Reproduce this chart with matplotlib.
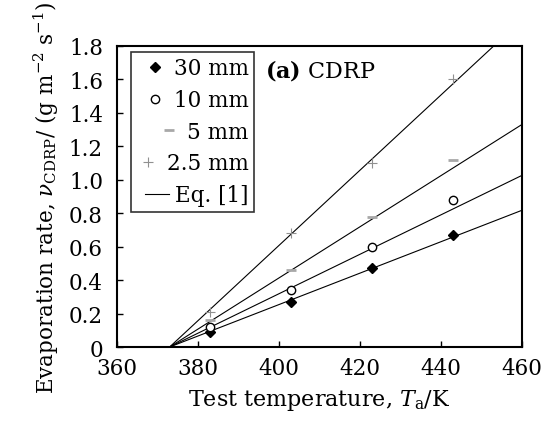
import matplotlib
matplotlib.use("Agg")
import matplotlib.pyplot as plt
import numpy as np

plt.rcParams['font.family'] = ['DejaVu Serif']
plt.rcParams['mathtext.fontset'] = 'dejavuserif'
plt.rcParams['font.size'] = 15.5

# measured data (test temperature in K)
temps = [383, 403, 423, 443]
rate_30 = [0.09, 0.27, 0.47, 0.67]
rate_10 = [0.12, 0.34, 0.60, 0.88]
rate_5 = [0.16, 0.46, 0.78, 1.12]
rate_2p5 = [0.21, 0.68, 1.10, 1.60]

# Eq. [1] lines: v = k (T - T0)
t0 = 373
slopes = [0.0094, 0.0118, 0.0153, 0.0225]

fig = plt.figure(figsize=(5.49, 4.27), dpi=100)
ax = fig.add_axes([0.213, 0.185, 0.738, 0.705])

tline = np.array([t0, 470])
for k in slopes:
    ax.plot(tline, k * (tline - t0), color='black', lw=0.8)

ax.plot(temps, rate_30, ls='none', marker='D', ms=5, color='black', label='30 mm')
ax.plot(temps, rate_10, ls='none', marker='o', ms=6, mfc='white', mec='black', mew=1.0, label='10 mm')
ax.plot(temps, rate_5, ls='none', marker='_', ms=7, mew=2, color='#a8a8a8', label='5 mm')
ax.plot(temps, rate_2p5, ls='none', marker='+', ms=7, mew=0.8, color='#909090', label='2.5 mm')
ax.plot([], [], color='black', lw=0.8, label='Eq. [1]')

ax.set_xlim(360, 460)
ax.set_ylim(0, 1.8)
ax.set_xticks(np.arange(360, 461, 20))
ax.set_yticks(np.arange(0, 1.81, 0.2))
ax.set_yticklabels(['0'] + ['%.1f' % v for v in np.arange(0.2, 1.81, 0.2)])
ax.tick_params(direction='in', length=4, width=1, top=False, right=False, labelsize=15.5)
ax.tick_params(axis='y', pad=10)
ax.tick_params(axis='x', pad=7)
for s in ax.spines.values():
    s.set_linewidth(1.5)

ax.set_xlabel('Test temperature, $T_{\\mathrm{a}}$/K', fontsize=16, labelpad=6)
ax.set_ylabel('Evaporation rate, $\\nu_{\\mathrm{CDRP}}$/ (g m$^{-2}$ s$^{-1}$)', fontsize=15.5, labelpad=6)

leg = ax.legend(loc='upper left', bbox_to_anchor=(0.035, 0.98), frameon=True, fancybox=False,
                edgecolor='black', handlelength=1.1, handletextpad=0.3, borderpad=0.25,
                borderaxespad=0, labelspacing=0.45, alignment='right', fontsize=15.5)
leg.get_frame().set_linewidth(1.2)
# right-align legend labels
vp = leg.get_children()[0].get_children()[1]
for col in vp.get_children():
    col.align = 'right'
for t in leg.get_texts():
    t.set_ha('right')

ax.text(0.365, 0.965, r'$\mathbf{(a)}$ CDRP', transform=ax.transAxes, fontsize=16, va='top')

fig.savefig('out.png', dpi=100)
